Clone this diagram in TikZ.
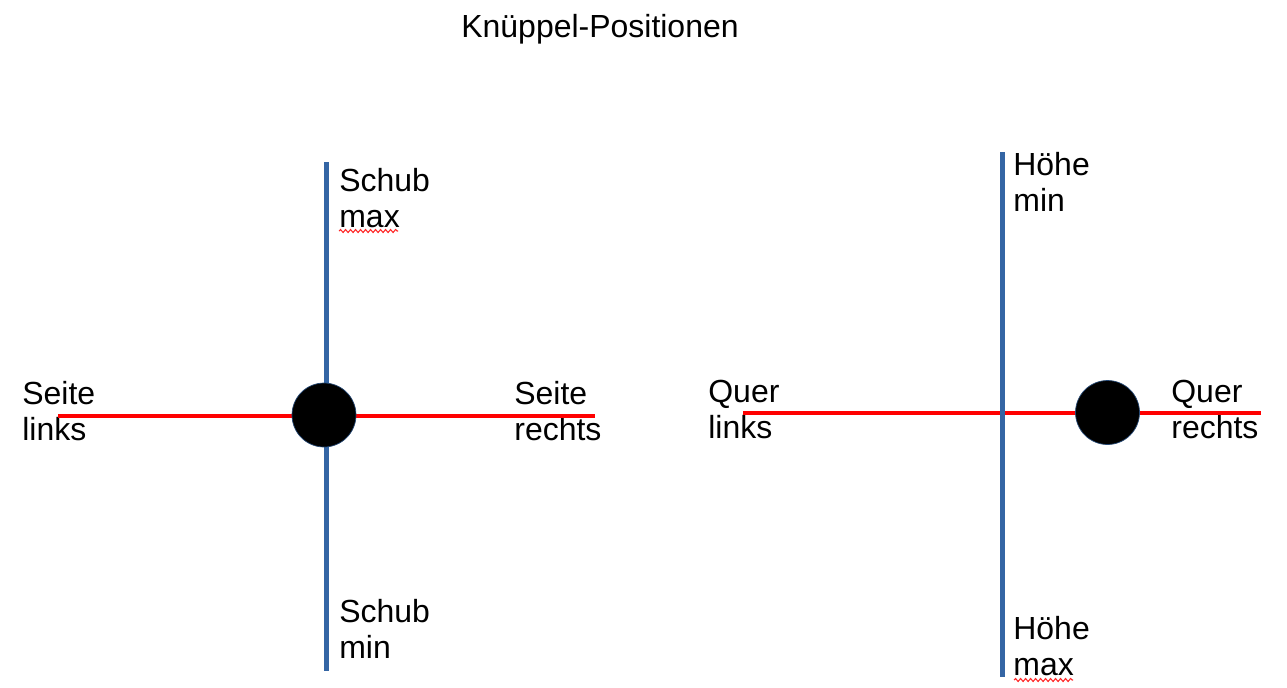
\documentclass[tikz,border=0pt]{standalone}
\usepackage{fontspec}
\setmainfont{Liberation Sans}
\usetikzlibrary{decorations.pathmorphing}
\definecolor{axisblue}{HTML}{3465A4}
\tikzset{
  lbl/.style={anchor=base west,inner sep=0pt,align=left,
    font=\fontsize{18.2}{20}\selectfont},
  thrust/.style={draw=axisblue,line width=2.85pt},
  roll/.style={draw=red,line width=2.6pt},
  knob/.style={circle,fill=black,draw=axisblue!70!black,line width=0.4pt,
    minimum size=1.28cm,inner sep=0pt},
  spell/.style={draw=red!85,line width=0.6pt,
    decorate,decoration={snake,amplitude=0.03cm,segment length=0.1cm}}
}

\begin{document}
\begin{tikzpicture}[x=0.02cm,y=-0.02cm]
\useasboundingbox (0,0) rectangle (1287,687);

\node[lbl,anchor=base] (title) at (600,37) {Knüppel-Positionen};

% left stick
\node[lbl] (seitel) at (22,440) {Seite\\links};
\node[lbl] (seiter) at (514,440) {Seite\\rechts};
\node[lbl] (schubmax) at (339,227) {Schub\\max};
\node[lbl] (schubmin) at (339,658) {Schub\\min};

\coordinate (lw) at (58,416);
\coordinate (le) at (595,416);
\coordinate (ln) at (326,162);
\coordinate (ls) at (326,671);

\draw[thrust] (ln) -- (ls);
\draw[roll] (lw) -- (le);
\node[knob] (knobl) at (324,415) {};

% right stick
\node[lbl] (querl) at (708,438) {Quer\\links};
\node[lbl] (querr) at (1171,438) {Quer\\rechts};
\node[lbl] (hoehemin) at (1013,211) {Höhe\\min};
\node[lbl] (hoehemax) at (1013,675) {Höhe\\max};

\coordinate (rw) at (743,413);
\coordinate (re) at (1261,413);
\coordinate (rn) at (1002,152);
\coordinate (rs) at (1002,677);

\draw[roll] (rw) -- (re);
\draw[thrust] (rn) -- (rs);
\node[knob] (knobr) at (1107.5,412.5) {};

% spell check marks
\draw[spell] (339,231) -- (398,231);
\draw[spell] (1014,680) -- (1073,680);

\end{tikzpicture}
\end{document}
